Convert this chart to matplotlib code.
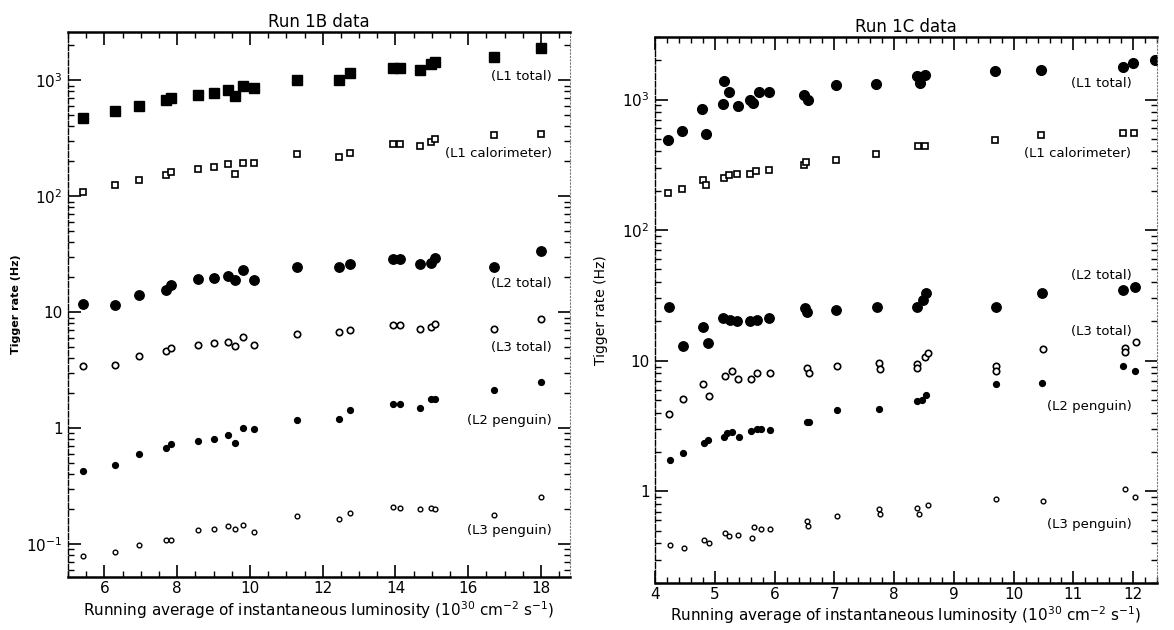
import matplotlib
matplotlib.use("Agg")
import matplotlib.pyplot as plt
from matplotlib.ticker import FixedLocator, FixedFormatter, LogLocator, MultipleLocator, NullFormatter

# Run 1B: luminosity of each run (1e30 cm^-2 s^-1) and trigger rates (Hz)
b_lum = [5.40, 6.28, 6.95, 7.68, 7.82, 8.58, 9.00, 9.40, 9.60, 9.80, 10.10,
         11.28, 12.45, 12.75, 13.93, 14.12, 14.68, 14.98, 15.10, 16.72, 18.00]
b_l1_total = [477, 541, 600, 672, 710, 743, 783, 820, 728, 888, 859,
              1000, 1000, 1156, 1276, 1276, 1219, 1393, 1440, 1590, 1900]
b_l1_calo = [108, 126, 137, 151, 162, 173, 179, 191, 157, 195, 195,
             230, 219, 234, 284, 281, 272, 292, 310, 336, 347]
b_l2_total = [11.7, 11.5, 14.0, 15.5, 17.1, 19.2, 19.9, 20.6, 19.1, 23.3, 18.9,
              24.5, 24.3, 26.0, 28.5, 28.5, 26.0, 26.3, 29.5, 24.5, 34.0]
b_l3_total = [3.44, 3.49, 4.17, 4.6, 4.9, 5.2, 5.4, 5.5, 5.16, 6.1, 5.2,
              6.5, 6.7, 7.0, 7.8, 7.7, 7.1, 7.4, 7.95, 7.2, 8.7]
b_l2_penguin = [0.43, 0.486, 0.597, 0.676, 0.728, 0.777, 0.813, 0.88, 0.75, 1.0, 0.98,
                1.17, 1.19, 1.43, 1.6, 1.6, 1.48, 1.77, 1.8, 2.14, 2.48]
b_l3_penguin = [0.079, 0.086, 0.099, 0.108, 0.108, 0.132, 0.134, 0.143, 0.134, 0.146, 0.128,
                0.174, 0.166, 0.186, 0.208, 0.207, 0.2, 0.205, 0.2, 0.178, 0.255]

# Run 1C
c_l1_x = [4.22, 4.45, 4.79, 4.86, 5.13, 5.15, 5.24, 5.38, 5.59, 5.64, 5.74, 5.90,
          6.49, 6.56, 7.03, 7.70, 8.38, 8.43, 8.52, 9.69, 10.45, 11.83, 12.00, 12.36]
c_l1_total = [492, 579, 849, 541, 927, 1380, 1137, 885, 983, 937, 1150, 1150,
              1086, 995, 1295, 1310, 1500, 1330, 1550, 1665, 1690, 1770, 1890, 2000]
c_calo_x = [4.22, 4.45, 4.80, 4.86, 5.15, 5.24, 5.37, 5.59, 5.69, 5.90,
            6.50, 6.52, 7.03, 7.70, 8.40, 8.51, 9.69, 10.45, 11.83, 12.01]
c_l1_calo = [193, 208, 241, 223, 251, 263, 271, 271, 284, 287,
             315, 335, 347, 383, 437, 437, 492, 537, 553, 553]
c_l2_x = [4.23, 4.47, 4.80, 4.89, 5.14, 5.25, 5.37, 5.59, 5.70, 5.91,
          6.51, 6.55, 7.03, 7.71, 8.38, 8.49, 8.54, 9.70, 10.47, 11.83, 12.03]
c_l2_total = [26.0, 13.0, 18.3, 13.6, 21.2, 20.6, 20.0, 20.0, 20.6, 21.2,
              25.2, 23.6, 24.5, 25.8, 26.0, 29.0, 32.9, 25.7, 33.3, 34.8, 36.5]
c_l3_x = [4.24, 4.47, 4.80, 4.91, 5.17, 5.28, 5.39, 5.60, 5.70, 5.92,
          6.54, 6.58, 7.04, 7.74, 7.76, 8.38, 8.38, 8.52, 8.57, 9.70,
          9.70, 10.49, 11.86, 11.86, 12.04]
c_l3_total = [3.92, 5.13, 6.64, 5.33, 7.7, 8.3, 7.2, 7.2, 8.1, 8.1,
              8.8, 8.1, 9.2, 9.7, 8.6, 9.5, 8.8, 10.7, 11.5, 9.06,
              8.3, 12.3, 12.5, 11.6, 14.0]
c_l2p_x = [4.25, 4.47, 4.82, 4.89, 5.16, 5.20, 5.28, 5.40, 5.60, 5.70,
           5.78, 5.92, 6.54, 6.58, 7.04, 7.74, 8.38, 8.46, 8.54, 9.70,
           10.47, 11.83, 12.03]
c_l2_penguin = [1.75, 1.97, 2.35, 2.47, 2.62, 2.8, 2.86, 2.62, 2.88, 3.0,
                3.02, 2.97, 3.4, 3.4, 4.2, 4.3, 4.9, 5.0, 5.5, 6.6,
                6.8, 9.05, 8.4]
c_l3p_x = [4.25, 4.48, 4.82, 4.91, 5.17, 5.24, 5.39, 5.62, 5.66, 5.78,
           5.93, 6.55, 6.56, 7.05, 7.74, 7.76, 8.38, 8.41, 8.57, 9.71,
           10.49, 11.86, 12.03]
c_l3_penguin = [0.387, 0.372, 0.425, 0.40, 0.48, 0.457, 0.468, 0.443, 0.535, 0.513,
                0.513, 0.59, 0.54, 0.645, 0.74, 0.667, 0.75, 0.667, 0.794, 0.87,
                0.84, 1.05, 0.91]

series_names = ["(L1 total)", "(L1 calorimeter)", "(L2 total)",
                "(L3 total)", "(L2 penguin)", "(L3 penguin)"]
b_label_y = [1070, 233, 17.7, 5.0, 1.17, 0.132]
c_label_y = [1318, 385, 44.6, 16.7, 4.43, 0.56]

xlabel = r"Running average of instantaneous luminosity ($10^{30}$ cm$^{-2}$ s$^{-1}$)"

fig = plt.figure(figsize=(11.74, 6.3), dpi=100)
ax1 = fig.add_axes([0.058, 0.084, 0.4276, 0.865])
ax2 = fig.add_axes([0.558, 0.075, 0.4276, 0.866])

# marker styles: filled / open, big to small
styles = [
    dict(marker="s", ms=7, mfc="black", mec="black"),
    dict(marker="s", ms=4.2, mfc="white", mec="black", mew=1.2),
    dict(marker="o", ms=6.8, mfc="black", mec="black"),
    dict(marker="o", ms=4.6, mfc="white", mec="black", mew=1.2),
    dict(marker="o", ms=4.2, mfc="black", mec="black"),
    dict(marker="o", ms=3.4, mfc="white", mec="black", mew=1.0),
]

b_series = [b_l1_total, b_l1_calo, b_l2_total, b_l3_total, b_l2_penguin, b_l3_penguin]
for ys, st in zip(b_series, styles):
    ax1.plot(b_lum, ys, ls="none", **st)

c_series = [(c_l1_x, c_l1_total), (c_calo_x, c_l1_calo), (c_l2_x, c_l2_total),
            (c_l3_x, c_l3_total), (c_l2p_x, c_l2_penguin), (c_l3p_x, c_l3_penguin)]
c_styles = [dict(st) for st in styles]
c_styles[0]["marker"] = "o"
c_styles[0]["ms"] = 7
for (xs, ys), st in zip(c_series, c_styles):
    ax2.plot(xs, ys, ls="none", **st)

for name, y in zip(series_names, b_label_y):
    ax1.text(18.3, y, name, ha="right", va="center", fontsize=9.5)
for name, y in zip(series_names, c_label_y):
    ax2.text(11.97, y, name, ha="right", va="center", fontsize=9.5)

ax1.set_xlim(5, 18.8)
ax1.set_ylim(0.052, 2600)
ax2.set_xlim(4, 12.4)
ax2.set_ylim(0.2, 3000)

for ax in (ax1, ax2):
    ax.set_yscale("log")
    ax.yaxis.set_minor_locator(LogLocator(base=10, subs=range(2, 10)))
    ax.yaxis.set_minor_formatter(NullFormatter())
    ax.tick_params(which="both", direction="in", top=True, right=True, labelsize=11)
    ax.tick_params(which="major", length=9, width=1.2)
    ax.tick_params(axis="y", which="major", pad=4)
    ax.tick_params(axis="x", which="major", pad=3)
    ax.tick_params(which="minor", length=4, width=1.0)
    ax.spines["top"].set_linewidth(1.8)
    ax.spines["bottom"].set_linewidth(1.8)
    ax.spines["left"].set_linewidth(1.0)
    ax.spines["left"].set_linestyle((0, (4, 1.5)))
    ax.spines["right"].set_linewidth(0.8)
    ax.spines["right"].set_linestyle((0, (1, 2)))
    ax.spines["right"].set_color("#777777")
    ax.set_xlabel(xlabel, fontsize=11, labelpad=2)

ax1.yaxis.set_major_locator(FixedLocator([0.1, 1, 10, 100, 1000]))
ax1.yaxis.set_major_formatter(FixedFormatter([r"$10^{-1}$", "1", "10", r"$10^{2}$", r"$10^{3}$"]))
ax1.xaxis.set_major_locator(MultipleLocator(2))
ax1.xaxis.set_minor_locator(MultipleLocator(0.5))
ax1.set_ylabel("Tigger rate (Hz)", fontsize=8, fontweight="bold", labelpad=4)
ax1.set_title("Run 1B data", fontsize=12, pad=4)

ax2.yaxis.set_major_locator(FixedLocator([1, 10, 100, 1000]))
ax2.yaxis.set_major_formatter(FixedFormatter(["1", "10", r"$10^{2}$", r"$10^{3}$"]))
ax2.xaxis.set_major_locator(MultipleLocator(1))
ax2.xaxis.set_minor_locator(MultipleLocator(0.2))
ax2.set_ylabel("Tigger rate (Hz)", fontsize=10, labelpad=10)
ax2.set_title("Run 1C data", fontsize=12, pad=4)

fig.savefig("out.png", dpi=100)
